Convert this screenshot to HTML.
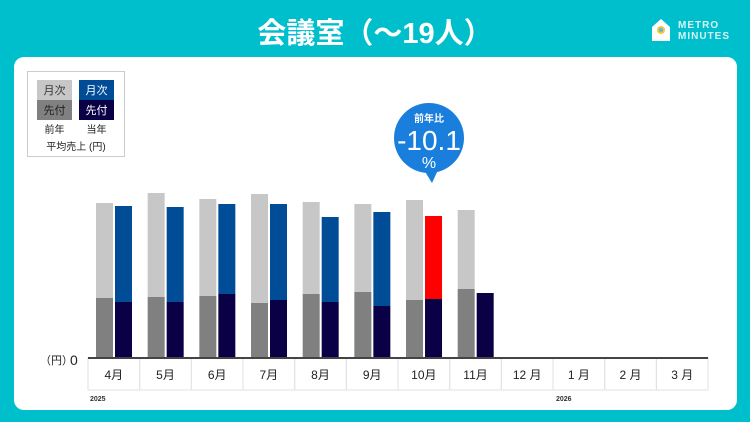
<!DOCTYPE html>
<html><head><meta charset="utf-8"><style>
body{margin:0;width:750px;height:422px;background:#00bfcc;font-family:"Liberation Sans","Noto Sans CJK JP",sans-serif;overflow:hidden;position:relative}
.title{position:absolute;left:0;width:750px;top:10px;text-align:center;color:#fff;font-size:29px;font-weight:bold}
.panel{position:absolute;left:14px;top:57px;width:723px;height:353px;background:#fff;border-radius:10px}
.logo{position:absolute;left:651px;top:18px;color:#d6f4f6;font-size:10px;font-weight:bold;line-height:11px;letter-spacing:1px}
</style></head><body>
<div class="title">会議室（～19人）</div>
<div class="logo">
<svg width="20" height="24" style="position:absolute;left:0;top:0"><path d="M1 9 L10 1 L19 9 L19 23 L1 23 Z" fill="#fff"/><circle cx="10" cy="12" r="4" fill="#f3c73a"/><circle cx="10" cy="12" r="2" fill="#5bb7e6"/></svg>
<div style="position:absolute;left:27px;top:2px">METRO<br>MINUTES</div></div>
<div class="panel"></div>
<svg id="chart" width="750" height="422" style="position:absolute;left:0;top:0" font-family="Liberation Sans, Noto Sans CJK JP, sans-serif">
<g>
<rect x="27.5" y="71.5" width="97" height="85" fill="#fff" stroke="#ccc"/>
<rect x="37" y="80" width="35" height="20" fill="#c8c7c8"/><text x="54.5" y="94" font-size="11" text-anchor="middle" fill="#333">月次</text>
<rect x="37" y="100" width="35" height="20" fill="#808080"/><text x="54.5" y="114" font-size="11" text-anchor="middle" fill="#222">先付</text>
<rect x="79" y="80" width="35" height="20" fill="#004c97"/><text x="96.5" y="94" font-size="11" text-anchor="middle" fill="#fff">月次</text>
<rect x="79" y="100" width="35" height="20" fill="#0a0046"/><text x="96.5" y="114" font-size="11" text-anchor="middle" fill="#fff">先付</text>
<text x="54.5" y="133" font-size="10" text-anchor="middle" fill="#222">前年</text>
<text x="96.5" y="133" font-size="10" text-anchor="middle" fill="#222">当年</text>
<text x="76" y="150" font-size="10" text-anchor="middle" fill="#222">平均売上 (円)</text>
</g>
<g>
<circle cx="429" cy="138" r="35" fill="#1a7fdc"/><path d="M424 170 L432 183 L438 170 Z" fill="#1a7fdc"/>
<text x="429" y="122" font-size="10" fill="#fff" text-anchor="middle" font-weight="bold">前年比</text>
<text x="429" y="150" font-size="28" fill="#fff" text-anchor="middle">-10.1</text>
<text x="429" y="168" font-size="16" fill="#fff" text-anchor="middle">%</text>
</g>
<text x="40" y="364" font-size="11" fill="#222">（円）</text>
<text x="70" y="365" font-size="14" fill="#222">0</text>
<text x="90" y="401" font-size="7" fill="#333" font-weight="bold">2025</text>
<text x="556" y="401" font-size="7" fill="#333" font-weight="bold">2026</text>
<g id="bars"></g>
</svg>
<script>
const categories=["4月","5月","6月","7月","8月","9月","10月","11月","12 月","1 月","2 月","3 月"];
const prevTotal=[155,165,159,164,156,154,158,148,null,null,null,null];
const prevAdvance=[60,61,62,55,64,66,58,69,null,null,null,null];
const curTotal=[152,151,154,154,141,146,142,null,null,null,null,null];
const curAdvance=[56,56,64,58,56,52,59,65,null,null,null,null];
const highlightIndex=6;
const NS="http://www.w3.org/2000/svg";
const g=document.getElementById('bars');
const x0=88,cw=51.67,base=358,scale=1;
const y=v=>base-v*scale;
function rect(x,yy,w,h,fill,name){const r=document.createElementNS(NS,'rect');r.setAttribute('x',x);r.setAttribute('y',yy);r.setAttribute('width',w);r.setAttribute('height',h);r.setAttribute('fill',fill);


g.appendChild(r);}
categories.forEach((c,i)=>{
  const cx=x0+i*cw;
  if(prevTotal[i]!=null){rect(cx+8,y(prevTotal[i]),17,(prevTotal[i]-prevAdvance[i])*scale,'#c8c7c8','bar-prev-monthly');}
  if(prevAdvance[i]!=null){rect(cx+8,y(prevAdvance[i]),17,prevAdvance[i]*scale,'#808080','bar-prev-advance');}
  if(curTotal[i]!=null){rect(cx+27,y(curTotal[i]),17,(curTotal[i]-curAdvance[i])*scale,i===highlightIndex?'#ff0000':'#004c97','bar-cur-monthly');}
  if(curAdvance[i]!=null){rect(cx+27,y(curAdvance[i]),17,curAdvance[i]*scale,'#0a0046','bar-cur-advance');}
  const cell=document.createElementNS(NS,'rect');cell.setAttribute('x',cx);cell.setAttribute('y',base);cell.setAttribute('width',cw);cell.setAttribute('height',32);cell.setAttribute('fill','none');cell.setAttribute('stroke','#e2e2e2');
  
  
  g.appendChild(cell);
  const t=document.createElementNS(NS,'text');t.setAttribute('x',cx+cw/2);t.setAttribute('y',base+21);t.setAttribute('font-size','12');t.setAttribute('text-anchor','middle');t.setAttribute('fill','#222');t.textContent=c;
  
  
  g.appendChild(t);
});
const ax=document.createElementNS(NS,'line');ax.setAttribute('x1',x0);ax.setAttribute('x2',x0+12*cw);ax.setAttribute('y1',base);ax.setAttribute('y2',base);ax.setAttribute('stroke','#444');ax.setAttribute('stroke-width','2');


g.appendChild(ax);
</script>
</body></html>
